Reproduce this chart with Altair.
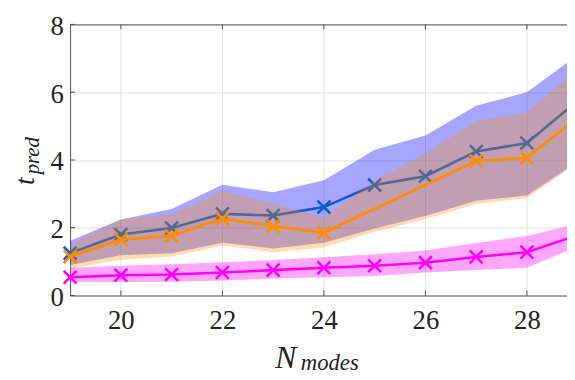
import altair as alt
import pandas as pd

# ---------------- data ----------------
n_modes = [19, 20, 21, 22, 23, 24, 25, 26, 27, 28, 29]

blue_mean = [1.25, 1.80, 1.99, 2.41, 2.36, 2.61, 3.26, 3.52, 4.25, 4.50, 5.75]
blue_upper = [1.62, 2.24, 2.55, 3.27, 3.05, 3.40, 4.30, 4.72, 5.60, 6.00, 7.10]
blue_lower = [0.90, 1.19, 1.25, 1.56, 1.39, 1.56, 1.98, 2.35, 2.80, 2.95, 3.95]

orange_x = [19, 20, 21, 22, 23, 24, 27, 28, 29]
orange_mean = [1.15, 1.65, 1.76, 2.27, 2.05, 1.85, 3.97, 4.06, 5.26]
orange_upper = [1.50, 2.25, 2.40, 3.09, 2.70, 2.30, 3.40, 4.20, 5.15, 5.40, 6.70]
orange_lower = [0.80, 1.05, 1.15, 1.48, 1.28, 1.42, 1.88, 2.25, 2.70, 2.88, 3.90]

magenta_mean = [0.54, 0.60, 0.62, 0.68, 0.75, 0.82, 0.88, 0.97, 1.14, 1.28, 1.78]
magenta_upper = [0.82, 0.88, 0.92, 0.98, 1.05, 1.13, 1.22, 1.33, 1.55, 1.76, 2.12]
magenta_lower = [0.40, 0.40, 0.41, 0.44, 0.50, 0.54, 0.58, 0.68, 0.75, 0.82, 1.45]

x_ticks = [20, 22, 24, 26, 28]
y_ticks = [0, 2, 4, 6, 8]

# ---------------- styling ----------------
W, H = 504, 275
X_MIN, X_MAX = 19, 28.79
SERIF = "Liberation Serif, Times New Roman, DejaVu Serif, serif"
FRAME = "#505050"
TEXT = "#222222"
XPATH = "M-1,-1L1,1M-1,1L1,-1"

BLUE_LINE = "#0a5ad2"
ORANGE = "#ff8c00"
MAGENTA = "#ff00ff"

xs = alt.Scale(domain=[X_MIN, X_MAX], nice=False, zero=False)
ys = alt.Scale(domain=[0, 8], nice=False, zero=False)

x_axis = alt.Axis(values=x_ticks, grid=True, gridColor="#e2e2e2", gridWidth=1,
                  domainColor=FRAME, domainWidth=1, ticks=False,
                  labelFont=SERIF, labelFontSize=27, labelColor=TEXT,
                  labelPadding=12, title=None, labelFlush=False)
y_axis = alt.Axis(values=y_ticks, grid=True, gridColor="#e2e2e2", gridWidth=1,
                  domainColor=FRAME, domainWidth=1, ticks=False,
                  labelFont=SERIF, labelFontSize=27, labelColor=TEXT,
                  labelPadding=7, labelOffset=2, title=None, labelFlush=False)


def X(field="x"):
    return alt.X(f"{field}:Q", scale=xs, axis=x_axis)


def Y(field):
    return alt.Y(f"{field}:Q", scale=ys, axis=y_axis)


blue_df = pd.DataFrame({"x": n_modes, "m": blue_mean, "lo": blue_lower, "hi": blue_upper})
orange_band_df = pd.DataFrame({"x": n_modes, "lo": orange_lower, "hi": orange_upper})
orange_df = pd.DataFrame({"x": orange_x, "m": orange_mean})
mag_df = pd.DataFrame({"x": n_modes, "m": magenta_mean, "lo": magenta_lower, "hi": magenta_upper})


def band(df, color, op):
    return alt.Chart(df).mark_area(color=color, opacity=op).encode(
        x=X(), y=Y("lo"), y2="hi")


def line(df, color, sw=2.6):
    return alt.Chart(df).mark_line(color=color, strokeWidth=sw).encode(x=X(), y=Y("m"))


def pts(df, color):
    return alt.Chart(df).mark_point(shape=XPATH, size=170, filled=False, opacity=1,
                                    color=color, strokeWidth=2.6).encode(x=X(), y=Y("m"))


layers = [
    band(blue_df, "#0000ff", 0.35),
    line(blue_df, BLUE_LINE),
    pts(blue_df, BLUE_LINE),
    band(orange_band_df, ORANGE, 0.30),
    line(orange_df, ORANGE, 2.8),
    pts(orange_df, ORANGE),
    band(mag_df, MAGENTA, 0.35),
    line(mag_df, MAGENTA),
    pts(mag_df, MAGENTA),
]

# frame top edge and inward ticks
top_edge = alt.Chart(pd.DataFrame({"a": [X_MIN], "b": [X_MAX]})).mark_rule(
    color=FRAME, strokeWidth=1).encode(x=X("a"), x2="b", y=alt.value(0.5))
xt = pd.DataFrame({"x": x_ticks})
yt = pd.DataFrame({"y": y_ticks})
bottom_ticks = alt.Chart(xt).mark_rule(color=FRAME, strokeWidth=1).encode(
    x=X(), y=alt.value(H), y2=alt.value(H - 5))
top_ticks = alt.Chart(xt).mark_rule(color=FRAME, strokeWidth=1).encode(
    x=X(), y=alt.value(0), y2=alt.value(5))
left_ticks = alt.Chart(yt).mark_rule(color=FRAME, strokeWidth=1).encode(
    y=Y("y"), x=alt.value(0), x2=alt.value(5))
layers += [top_edge, bottom_ticks, top_ticks, left_ticks]


def label(txt, x, y, size, angle=0):
    return alt.Chart(pd.DataFrame({"t": [txt]})).mark_text(
        font=SERIF, fontStyle="italic", fontSize=size, align="left",
        baseline="alphabetic", angle=angle, color=TEXT).encode(
        text="t:N", x=alt.value(x), y=alt.value(y))


layers += [
    label("N", 208, 348, 32),
    label("modes", 234, 351, 23),
    label("t", -37, 163, 28, 270),
    label("pred", -32, 152, 21, 270),
]

chart = alt.layer(*layers).properties(
    width=W, height=H,
    autosize=alt.AutoSizeParams(type="none"),
    padding={"left": 63, "top": 14, "right": 0, "bottom": 81},
).configure_view(stroke=None)

chart.save("out.html", embed_options={"renderer": "svg", "actions": False})
